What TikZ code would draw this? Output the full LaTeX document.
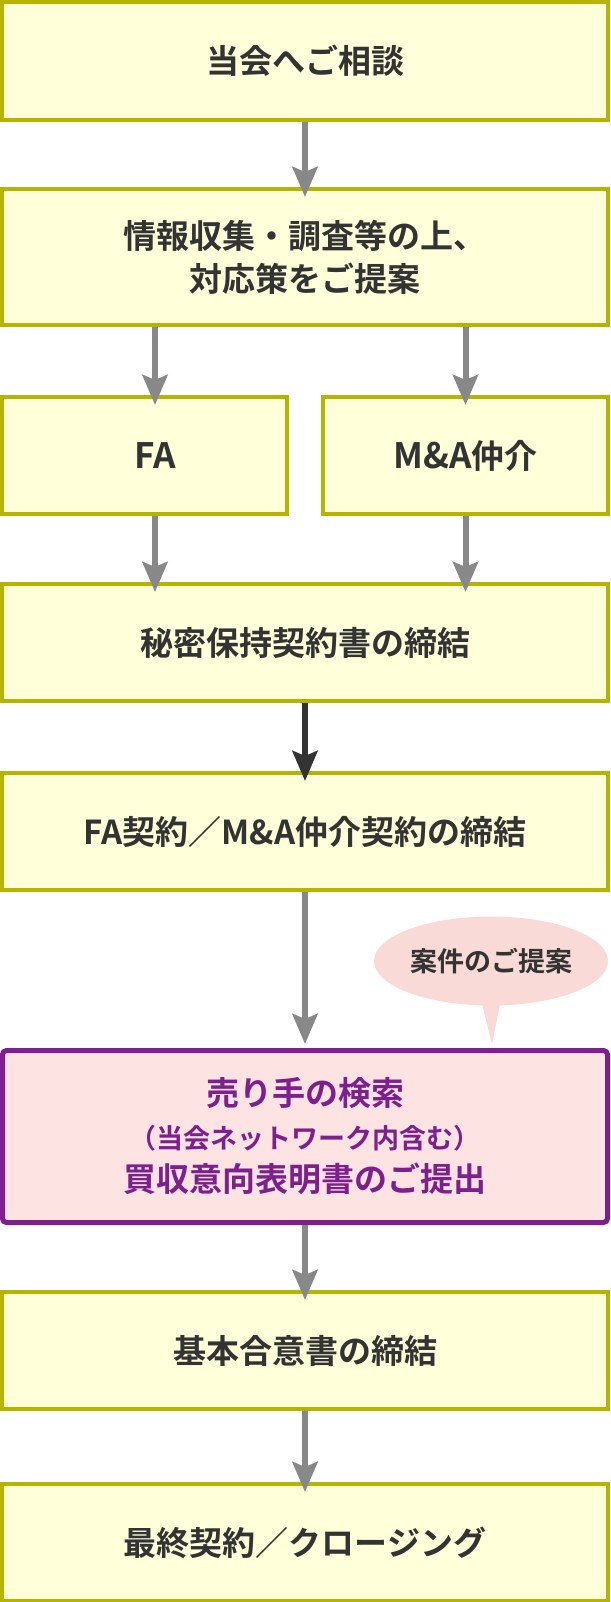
\documentclass[tikz,border=0pt]{standalone}
\usepackage{fontspec}
\setmainfont{Noto Sans CJK JP}[BoldFont={Noto Sans CJK JP Bold}]
\usetikzlibrary{arrows.meta,shapes.geometric}
\definecolor{boxfill}{HTML}{FFFFD9}
\definecolor{boxline}{HTML}{B5B500}
\definecolor{arrowgray}{HTML}{888888}
\definecolor{textgray}{HTML}{333333}
\definecolor{purpleline}{HTML}{7D1F8F}
\definecolor{pinkfill}{HTML}{FDE4E3}
\definecolor{bubblefill}{HTML}{F9DAD6}
\begin{document}
\begin{tikzpicture}[x=1pt,y=-1pt,
  stepbox/.style={draw=boxline,fill=boxfill,line width=4pt,minimum width=606pt,
    minimum height=117pt,text=textgray,font=\fontsize{33}{43}\selectfont\bfseries,
    align=center,inner sep=0pt},
  halfbox/.style={stepbox,minimum width=285pt},
  flow/.style={draw=arrowgray,line width=6pt,shorten >=-10pt,
    -{Stealth[length=30pt,width=25pt,inset=5pt]}}]
\useasboundingbox (0,0) rectangle (610,1602);
\node[stepbox,minimum height=118pt] (consult) at (305,61) {当会へご相談};
\node[stepbox,minimum height=136pt] (propose) at (305,257) {情報収集・調査等の上、\\対応策をご提案};
\node[halfbox] (fa) at (144.5,455.5) {\hspace*{21pt}\fontsize{35}{43}\selectfont FA};
\node[halfbox] (mna) at (465.5,455.5) {{\fontsize{35}{43}\selectfont M\&A}仲介};
\node[stepbox] (nda) at (305,642.5) {秘密保持契約書の締結};
\node[stepbox] (contract) at (305,831.5) {FA契約／M\&A仲介契約の締結};
\node[stepbox,draw=purpleline,fill=pinkfill,line width=5pt,minimum width=605pt,
  minimum height=172pt,rounded corners=4pt,text=purpleline] (search) at (305,1136.5)
  {売り手の検索\\{\fontsize{27}{42}\selectfont （当会ネットワーク内含む）}\\買収意向表明書のご提出};
\node[stepbox] (basic) at (305,1350.5) {基本合意書の締結};
\node[stepbox] (closing) at (305,1542.5) {最終契約／クロージング};
\node[ellipse,fill=bubblefill,minimum width=234pt,minimum height=89pt,inner sep=0pt,
  text=textgray,font=\fontsize{27}{30}\selectfont\bfseries] (bubble) at (491,961)
  {\raisebox{-5pt}{案件のご提案}};
\coordinate (tailtip) at (492,1044);
\coordinate (faaxis) at (155,0);
\fill[bubblefill] ([xshift=-10pt,yshift=6pt]bubble.south) -- (tailtip)
  -- ([xshift=10pt,yshift=6pt]bubble.south) -- cycle;
\draw[flow] (consult.south) -- (propose.north);
\draw[flow] (propose.south -| faaxis) -- (fa.north -| faaxis);
\draw[flow] (propose.south -| mna) -- (mna.north);
\draw[flow] (fa.south -| faaxis) -- (nda.north -| faaxis);
\draw[flow] (mna.south) -- (nda.north -| mna);
\draw[flow,draw=textgray] (nda.south) -- (contract.north);
\draw[flow,shorten >=4pt] (contract.south) -- (search.north);
\draw[flow] (search.south) -- (basic.north);
\draw[flow] (basic.south) -- (closing.north);
\end{tikzpicture}
\end{document}
